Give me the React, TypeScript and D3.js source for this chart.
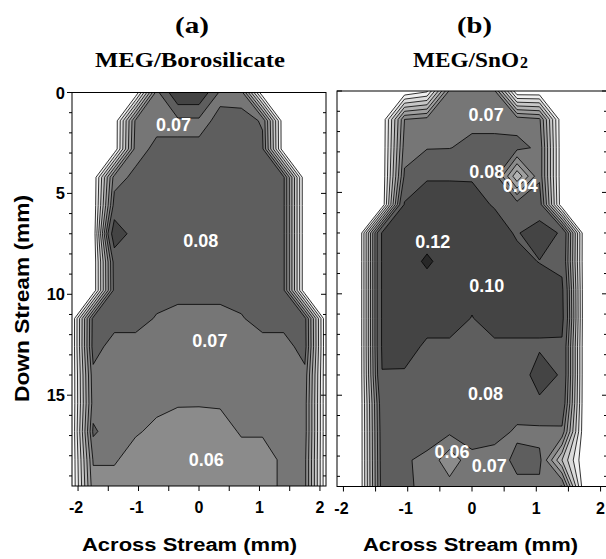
import React from 'react';
import * as d3 from 'd3';

// grid positions (mm)
const acrossMM = [-2.1, -1.75, -1.4, -1.05, -0.7, -0.35, 0, 0.35, 0.7, 1.05, 1.4, 1.75, 2.1];
const downMM = [0, 1.4, 2.8, 4.2, 5.6, 7.0, 8.4, 9.8, 11.2, 12.6, 14.0, 15.4, 16.8, 18.2, 19.6];

const contourLevels = [0.01, 0.02, 0.03, 0.04, 0.05, 0.06, 0.07, 0.08, 0.1, 0.12];
const levelGrays = ['#efefef', '#dbdbdb', '#c7c7c7', '#b3b3b3', '#9f9f9f', '#8b8b8b', '#767676', '#5e5e5e', '#444444', '#282828'];

// (a) MEG/Borosilicate values, rows = down stream, columns = across stream
const borosilicate = [
  [0, 0, 0, 0, 0.075, 0.118, 0.118, 0.077, 0.075, 0, 0, 0, 0],
  [0, 0, 0, 0.072, 0.076, 0.076, 0.076, 0.083, 0.084, 0.079, 0, 0, 0],
  [0, 0, 0, 0.075, 0.083, 0.083, 0.083, 0.085, 0.085, 0.082, 0, 0, 0],
  [0, 0, 0.075, 0.083, 0.085, 0.085, 0.085, 0.085, 0.085, 0.085, 0.082, 0, 0],
  [0, 0, 0.085, 0.085, 0.085, 0.085, 0.085, 0.085, 0.085, 0.085, 0.082, 0, 0],
  [0, 0, 0.115, 0.09, 0.085, 0.085, 0.085, 0.085, 0.085, 0.085, 0.082, 0, 0],
  [0, 0, 0.085, 0.085, 0.085, 0.085, 0.085, 0.085, 0.085, 0.085, 0.082, 0, 0],
  [0, 0, 0.084, 0.085, 0.085, 0.085, 0.085, 0.085, 0.085, 0.085, 0.082, 0, 0],
  [0, 0.084, 0.085, 0.085, 0.079, 0.075, 0.075, 0.075, 0.079, 0.085, 0.085, 0.084, 0],
  [0, 0.085, 0.075, 0.075, 0.073, 0.072, 0.072, 0.072, 0.073, 0.075, 0.075, 0.085, 0],
  [0, 0.077, 0.072, 0.071, 0.071, 0.071, 0.071, 0.071, 0.071, 0.071, 0.072, 0.077, 0],
  [0, 0.075, 0.073, 0.072, 0.072, 0.071, 0.071, 0.071, 0.072, 0.072, 0.073, 0.075, 0],
  [0, 0.082, 0.073, 0.071, 0.068, 0.064, 0.063, 0.066, 0.071, 0.071, 0.072, 0.075, 0],
  [0, 0.071, 0.071, 0.066, 0.064, 0.062, 0.062, 0.063, 0.066, 0.066, 0.0718, 0.073, 0],
  [0, 0.066, 0.066, 0.063, 0.062, 0.061, 0.061, 0.061, 0.062, 0.066, 0.0718, 0.073, 0],
];

// (b) MEG/SnO2 values
const snO2 = [
  [0, 0, 0, 0, 0.008, 0.072, 0.075, 0.072, 0, 0, 0, 0, 0],
  [0, 0, 0, 0.07, 0.074, 0.076, 0.076, 0.076, 0.076, 0.072, 0, 0, 0],
  [0, 0, 0, 0.075, 0.079, 0.0795, 0.084, 0.084, 0.083, 0.078, 0, 0, 0],
  [0, 0, 0, 0.082, 0.099, 0.099, 0.099, 0.085, 0.042, 0.078, 0, 0, 0],
  [0, 0, 0, 0.102, 0.105, 0.105, 0.104, 0.099, 0.085, 0.087, 0, 0, 0],
  [0, 0, 0.102, 0.105, 0.106, 0.106, 0.106, 0.106, 0.0985, 0.11, 0.0975, 0, 0],
  [0, 0, 0.102, 0.105, 0.125, 0.106, 0.106, 0.106, 0.104, 0.0995, 0.095, 0, 0],
  [0, 0, 0.102, 0.105, 0.106, 0.106, 0.104, 0.106, 0.107, 0.107, 0.104, 0, 0],
  [0, 0, 0.102, 0.106, 0.107, 0.107, 0.0995, 0.107, 0.107, 0.107, 0.106, 0, 0],
  [0, 0, 0.102, 0.107, 0.097, 0.097, 0.095, 0.097, 0.097, 0.097, 0.097, 0, 0],
  [0, 0, 0.0995, 0.098, 0.09, 0.088, 0.088, 0.088, 0.084, 0.112, 0.097, 0, 0],
  [0, 0, 0.09, 0.088, 0.087, 0.086, 0.086, 0.086, 0.086, 0.095, 0.092, 0, 0],
  [0, 0, 0.088, 0.086, 0.084, 0.082, 0.085, 0.085, 0.078, 0.076, 0.077, 0, 0],
  [0, 0, 0.087, 0.081, 0.078, 0.063, 0.077, 0.074, 0.083, 0.083, 0.04, 0, 0],
  [0, 0, 0.086, 0.083, 0.076, 0.075, 0.075, 0.074, 0.077, 0.077, 0.084, 0, 0],
];

const xDomain = [-2.1, 2.1];
const yDomain = [0, 19.5];
const xTickValues = [-2, -1, 0, 1, 2];
const xMinorTicks = [-2, -1.5, -1, -0.5, 0, 0.5, 1, 1.5, 2];
const yTickValues = [0, 5, 10, 15];
const yMinorTicks = [0, 1, 2, 3, 4, 5, 6, 7, 8, 9, 10, 11, 12, 13, 14, 15, 16, 17, 18, 19];

// region labels: [text, across mm, down mm]
const borosilicateLabels: [string, number, number][] = [
  ['0.07', -0.42, 1.57],
  ['0.08', 0.03, 7.34],
  ['0.07', 0.18, 12.29],
  ['0.06', 0.12, 18.2],
];
const snO2Labels: [string, number, number][] = [
  ['0.07', 0.22, 1.18],
  ['0.08', 0.23, 3.97],
  ['0.04', 0.75, 4.66],
  ['0.12', -0.61, 7.43],
  ['0.10', 0.23, 9.58],
  ['0.08', 0.21, 14.93],
  ['0.06', -0.31, 17.79],
  ['0.07', 0.27, 18.46],
];

const SANS = 'Liberation Sans, Arial, sans-serif';
const SERIF = 'Liberation Serif, Times New Roman, serif';

type PanelProps = {
  id: string;
  grid: number[][];
  labels: [string, number, number][];
  left: number;
  right: number;
  top: number;
  bottom: number;
  yLabels: boolean;
  leftInside: boolean;
};

function Panel({ id, grid, labels, left, right, top, bottom, yLabels, leftInside }: PanelProps) {
  const x = d3.scaleLinear().domain(xDomain).range([left, right]);
  const y = d3.scaleLinear().domain(yDomain).range([top, bottom]);
  const n = acrossMM.length;
  const m = downMM.length;
  const stepX = acrossMM[1] - acrossMM[0];
  const stepY = downMM[1] - downMM[0];
  const gx = (c: number) => x(acrossMM[0] + (c - 0.5) * stepX);
  const gy = (c: number) => y(downMM[0] + (c - 0.5) * stepY);
  const proj = d3.geoTransform({
    point: function (this: any, px: number, py: number) {
      this.stream.point(gx(px), gy(py));
    },
  });
  const path = d3.geoPath(proj as any);
  const contours = d3.contours().size([n, m]).thresholds(contourLevels)(grid.flat());

  const ticks: JSX.Element[] = [];
  yMinorTicks.forEach((v) => {
    const major = v % 5 === 0;
    const len = major ? 5 : 3;
    const yy = y(v);
    const lx1 = leftInside ? left : left - len;
    const lx2 = leftInside ? left + len : left;
    ticks.push(<line key={`l${v}`} x1={lx1} x2={lx2} y1={yy} y2={yy} stroke="#000" strokeWidth={1} />);
    ticks.push(<line key={`r${v}`} x1={right - len} x2={right} y1={yy} y2={yy} stroke="#000" strokeWidth={1} />);
  });
  xMinorTicks.forEach((v) => {
    const xx = x(v);
    ticks.push(<line key={`b${v}`} x1={xx} x2={xx} y1={bottom} y2={bottom + 5} stroke="#000" strokeWidth={1} />);
  });

  return (
    <g>
      <defs>
        <clipPath id={`clip-${id}`}>
          <rect x={left} y={top} width={right - left} height={bottom - top} />
        </clipPath>
      </defs>
      <rect x={left} y={top} width={right - left} height={bottom - top} fill="#fff" />
      <g clipPath={`url(#clip-${id})`}>
        {contours.map((c, i) => (
          <path key={`f${i}`} d={path(c as any) || ''} fill={levelGrays[i]} stroke="none" />
        ))}
        {contours.map((c, i) => (
          <path key={`s${i}`} d={path(c as any) || ''} fill="none" stroke="#000" strokeWidth={0.8} />
        ))}
      </g>
      {labels.map(([t, lx, ly], i) => (
        <text key={`t${i}`} x={x(lx)} y={y(ly) + 6.5} fill="#fff" fontFamily={SANS} fontWeight="bold" fontSize={18} textAnchor="middle">
          {t}
        </text>
      ))}
      <rect x={left} y={top} width={right - left} height={bottom - top} fill="none" stroke="#000" strokeWidth={1} />
      {ticks}
      {xTickValues.map((v) => (
        <text key={`xl${v}`} x={x(v) + (v < 0 ? -2 : 0)} y={bottom + 27} fontFamily={SANS} fontWeight="bold" fontSize={16} textAnchor="middle">
          {v < 0 ? `-${Math.abs(v)}` : `${v}`}
        </text>
      ))}
      {yLabels &&
        yTickValues.map((v) => (
          <text key={`yl${v}`} x={left - 7} y={y(v) + 6} fontFamily={SANS} fontWeight="bold" fontSize={16.5} textAnchor="end">
            {v}
          </text>
        ))}
    </g>
  );
}

export default function App() {
  return (
    <div style={{ position: 'absolute', left: 0, top: 0 }}>
      <svg width={606} height={559} style={{ display: 'block', background: '#fff' }}>
        <text x={192} y={33} fontFamily={SERIF} fontWeight="bold" fontSize={24} textAnchor="middle" textLength={34} lengthAdjust="spacingAndGlyphs">(a)</text>
        <text x={190} y={67} fontFamily={SERIF} fontWeight="bold" fontSize={22} textAnchor="middle" textLength={190} lengthAdjust="spacingAndGlyphs">MEG/Borosilicate</text>
        <text x={474.5} y={33} fontFamily={SERIF} fontWeight="bold" fontSize={24} textAnchor="middle" textLength={35} lengthAdjust="spacingAndGlyphs">(b)</text>
        <text x={413} y={67} fontFamily={SERIF} fontWeight="bold" fontSize={22} textAnchor="start" textLength={106} lengthAdjust="spacingAndGlyphs">MEG/SnO</text>
        <text x={520} y={67.5} fontFamily={SERIF} fontWeight="bold" fontSize={16} textAnchor="start">2</text>

        <Panel id="a" grid={borosilicate} labels={borosilicateLabels} left={72} right={326} top={92.5} bottom={486} yLabels={true} leftInside={false} />
        <Panel id="b" grid={snO2} labels={snO2Labels} left={337} right={607} top={91} bottom={486.5} yLabels={false} leftInside={true} />

        <text transform="translate(28.5,298.5) rotate(-90)" fontFamily={SANS} fontWeight="bold" fontSize={20} textAnchor="middle" textLength={207} lengthAdjust="spacingAndGlyphs">Down Stream (mm)</text>
        <text x={189.5} y={551} fontFamily={SANS} fontWeight="bold" fontSize={18} textAnchor="middle" textLength={215} lengthAdjust="spacingAndGlyphs">Across Stream (mm)</text>
        <text x={470.5} y={551} fontFamily={SANS} fontWeight="bold" fontSize={18} textAnchor="middle" textLength={215} lengthAdjust="spacingAndGlyphs">Across Stream (mm)</text>
      </svg>
    </div>
  );
}
